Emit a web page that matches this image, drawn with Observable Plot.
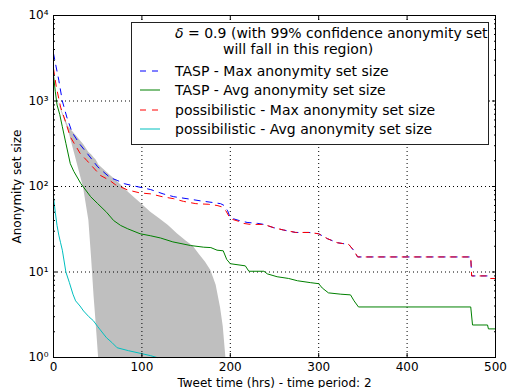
<!DOCTYPE html>
<html><head><meta charset="utf-8">
<script src="https://cdn.jsdelivr.net/npm/d3@7"></script>
<script src="https://cdn.jsdelivr.net/npm/@observablehq/plot@0.6"></script>
<style>
body{margin:0;background:#fff;}
#wrap{position:relative;width:508px;height:388px;font-family:"DejaVu Sans",sans-serif;}
</style></head><body><div id="wrap"></div>
<script>
const xTicks = [0, 100, 200, 300, 400, 500];
const yTicks = [1, 10, 100, 1000, 10000];
const yTickLabels = ["10⁰", "10¹", "10²", "10³", "10⁴"];

const legendTitle1 = "(with 99% confidence anonymity set";
const legendTitle2 = "will fall in this region)";
const seriesNames = ["TASP - Max anonymity set size", "TASP - Avg anonymity set size",
  "possibilistic - Max anonymity set size", "possibilistic - Avg anonymity set size"];
const seriesColors = ["#0000ff", "#008000", "#ff0000", "#00bfbf"];

// TASP - Max (blue dashed): [hrs, size]
const taspMax = [[0,3600],[3,2500],[6,1750],[10,1000],[15,650],[21,430],[30,310],[38,245],[50,170],[64,127],[72,118],[80,108],[90,102],[100,97],[110,92],[124,82],[136,76],[151,72],[166,68],[180,65],[189,63],[193,60],[197,52],[200,43],[210,40],[219,38],[231,37],[238,36],[249,33],[260,31],[274,29],[289,29],[300,28],[310,24.5],[321,22],[334,21],[340,17.7],[344,15],[472,15],[473,9],[491,9],[493,8.4],[500,8.4]];
// TASP - Avg (green)
const taspAvg = [[0,2000],[2,1300],[4,900],[7,700],[10,500],[14,320],[19,185],[23,150],[31,108],[42,76],[50,63],[60,50],[68,40],[76,35],[84,32],[98,28],[110,26.5],[121,25],[135,22.5],[155,20.4],[170,19.5],[178,19.3],[185,18],[192,17.7],[196,14],[200,12.5],[217,11.8],[221,10.2],[238,10.2],[242,9.5],[253,8.8],[266,8.4],[276,7.9],[291,7.5],[300,7.3],[304,6.5],[311,5.7],[325,5.5],[336,5.4],[340,4.6],[345,3.9],[472,3.9],[474,2.4],[491,2.4],[492,2.16],[500,2.16]];
// possibilistic - Max (red dashed)
const possMax = [[0,2400],[3,1500],[8,850],[13,600],[19,380],[25,300],[30,245],[38,200],[53,135],[64,117],[70,105],[84,91],[98,84],[110,82],[123,76],[136,72],[147,67],[161,63],[175,62],[185,60],[190,58],[195,52],[200,42],[210,39],[215,37],[223,36],[238,36],[249,33],[260,31],[274,29],[289,29],[300,28],[310,24.5],[321,22],[334,21],[340,17.7],[344,15],[472,15],[473,9],[491,9],[493,8.4],[500,8.4]];
// possibilistic - Avg (cyan)
const possAvg = [[0,75],[2,50],[4,35],[6,27],[8,22],[10,18],[14,10],[18,7.5],[22,5.5],[25,4.6],[30,4],[34,3.5],[40,3],[45,2.7],[50,2.3],[53,2.1],[60,1.7],[66,1.5],[72,1.3],[85,1.2],[98,1.12],[110,1.05],[117,1.0]];

// delta = 0.9 region (grey band)
const bandX    = [5,   10,  17,  25,  34,  40,  43,  46,  48,  50,  51,  55,  64,  72,  85, 100, 110, 120, 130, 140, 150, 158, 165, 172, 178, 184, 189, 192, 195];
const bandHigh = [1000,750, 500, 400, 310, 250, 235, 215, 205, 190, 180, 165, 135, 115, 85,  62,  50,  42,  35,  28,  23,  20,  16,  13,  10.4,7,   3.8, 2.3, 1];
const bandLow  = [1000,700, 450, 220, 97,  40,  15,  5,   2.7, 1.4, 1,   1,   1,   1,   1,   1,   1,   1,   1,   1,   1,   1,   1,   1,   1,   1,   1,   1,   1];

const band = bandX.map((x, i) => ({x, lo: bandLow[i], hi: bandHigh[i]}));
const yMinor = [];
for (let k = 0; k < 4; k++) for (let m = 2; m <= 9; m++) yMinor.push(m * Math.pow(10, k));
const blank = () => "";
const grid = {stroke: "black", strokeOpacity: 1, strokeDasharray: "1,3", strokeWidth: 1};
const line = (data, stroke, dash) => Plot.line(data, {x: d => d[0], y: d => d[1], stroke, strokeWidth: 1, strokeDasharray: dash});

const chart = Plot.plot({
  width: 508, height: 388,
  marginTop: 15, marginLeft: 53, marginRight: 13, marginBottom: 31,
  style: {fontFamily: "DejaVu Sans", fontSize: "12px", color: "black", background: "white", overflow: "visible"},
  x: {domain: [0, 500]},
  y: {type: "log", domain: [1, 10000]},
  marks: [
    Plot.areaY(band, {x: "x", y1: "lo", y2: "hi", fill: "#bfbfbf"}),
    Plot.gridX(xTicks.slice(1, -1), grid),
    Plot.gridY(yTicks.slice(1, -1), grid),
    line(taspMax, seriesColors[0], "6,6"),
    line(taspAvg, seriesColors[1]),
    line(possMax, seriesColors[2], "6,6"),
    line(possAvg, seriesColors[3]),
    Plot.frame({stroke: "black"}),
    Plot.axisX(xTicks, {tickSize: 0, tickPadding: 5, label: "Tweet time (hrs) - time period: 2", labelAnchor: "center", labelArrow: "none", labelOffset: 29}),
    Plot.axisX(xTicks, {tickSize: -4, tickFormat: blank, label: null}),
    Plot.axisX(xTicks, {anchor: "top", tickSize: -4, tickFormat: blank, label: null}),
    Plot.axisY(yTicks, {tickSize: 0, tickPadding: 5, tickFormat: (d, i) => yTickLabels[yTicks.indexOf(d)], label: "Anonymity set size", labelAnchor: "center", labelArrow: "none", labelOffset: 41}),
    Plot.axisY(yTicks, {tickSize: -4, tickFormat: blank, label: null}),
    Plot.axisY(yMinor, {tickSize: -2, tickFormat: blank, label: null}),
    Plot.axisY(yTicks, {anchor: "right", tickSize: -4, tickFormat: blank, label: null}),
    Plot.axisY(yMinor, {anchor: "right", tickSize: -2, tickFormat: blank, label: null})
  ]
});
const wrap = document.getElementById("wrap");
wrap.appendChild(chart);

// legend overlay
const leg = d3.select(wrap).append("svg")
  .attr("width", 508).attr("height", 388)
  .style("position", "absolute").style("left", "0px").style("top", "0px")
  .style("font-family", "DejaVu Sans").style("font-size", "14px");
leg.append("rect").attr("x", 131.5).attr("y", 22.5).attr("width", 357).attr("height", 122)
  .attr("fill", "white").attr("stroke", "#222").attr("stroke-width", 1);
const t1 = leg.append("text").attr("x", 175).attr("y", 33).attr("dy", "0.35em");
t1.append("tspan").attr("font-style", "italic").text("δ");
t1.append("tspan").text(" = 0.9 " + legendTitle1);
leg.append("text").attr("x", 223).attr("y", 49).attr("dy", "0.35em").text(legendTitle2);
const rowsY = [71, 90, 110, 129];
seriesNames.forEach((name, i) => {
  leg.append("line").attr("x1", 140).attr("x2", 160).attr("y1", rowsY[i]).attr("y2", rowsY[i])
    .attr("stroke", seriesColors[i]).attr("stroke-width", 1)
    .attr("stroke-dasharray", i % 2 === 0 ? "6,6" : null);
  leg.append("text").attr("x", 175).attr("y", rowsY[i]).attr("dy", "0.35em").text(name);
});
</script></body></html>
